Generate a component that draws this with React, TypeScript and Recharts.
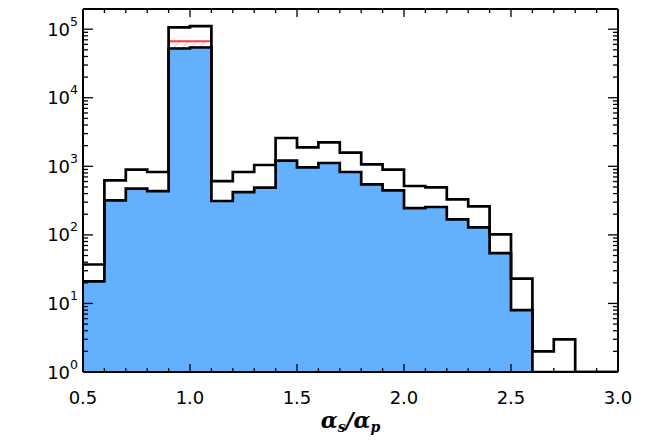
import { ComposedChart, Area, XAxis, YAxis, ReferenceLine } from "recharts";

// bin edges of the histogram (alpha_s / alpha_p)
const binEdges = [
  0.5, 0.6, 0.7, 0.8, 0.9, 1.0, 1.1, 1.2, 1.3, 1.4, 1.5, 1.6, 1.7, 1.8, 1.9,
  2.0, 2.1, 2.2, 2.3, 2.4, 2.5, 2.6, 2.7, 2.8, 2.9, 3.0,
];

// counts per bin (one less than the edges)
const allCounts = [
  37, 625, 895, 826, 106000, 111000, 610, 826, 1045, 2590, 1893, 2240, 1585,
  1069, 895, 516, 494, 330, 261, 102, 23, 2, 3, 0, 0,
];
const selectedCounts = [
  21, 319, 472, 436, 52300, 54100, 312, 421, 490, 1211, 967, 1117, 826, 546,
  446, 246, 255, 168, 129, 54, 8, 0, 0, 0, 0,
];
// red hatched level on top of the spike
const flaggedCounts = [
  null, null, null, null, 66500, 66500, null, null, null, null, null, null,
  null, null, null, null, null, null, null, null, null, null, null, null, null,
];

const xTicks = binEdges;
const yMajor = [1, 10, 100, 1000, 10000, 100000];
const yTicks = yMajor
  .flatMap((d) => [d, 2 * d, 3 * d, 4 * d, 5 * d, 6 * d, 7 * d, 8 * d, 9 * d])
  .filter((v) => v < 1.97e5);

const FONT = "DejaVu Sans";
const FLOOR = 1; // empty bins sit on the bottom of the log axis
const X_DOMAIN = [0.5, 3.0];
const Y_DOMAIN = [1, 1.97e5];

// value of a step series at edge i (the last edge closes the previous bin)
const at = (arr: (number | null)[], i: number) =>
  i < arr.length ? arr[i] : arr[arr.length - 1];

const data = binEdges.map((x, i) => {
  const all = at(allCounts, i) as number;
  const sel = at(selectedCounts, i) as number;
  let red: number[] | null = null;
  if (i < flaggedCounts.length && flaggedCounts[i] != null) {
    red = [selectedCounts[i], flaggedCounts[i] as number];
  } else if (i > 0 && flaggedCounts[i - 1] != null) {
    red = [selectedCounts[i - 1], flaggedCounts[i - 1] as number];
  }
  return {
    x,
    all: all > 0 ? all : FLOOR,
    sel: sel > 0 ? sel : FLOOR,
    red,
  };
});

const isMajorY = (v: number) => {
  const e = Math.log10(v);
  return Math.abs(e - Math.round(e)) < 1e-6;
};
const isMajorX = (v: number) => Math.round(v * 10) % 5 === 0;

const TICK_W = 1.3;

function LeftTick({ x, y, payload }: any) {
  const v = payload.value;
  const major = isMajorY(v);
  return (
    <g>
      <line x1={x} y1={y} x2={x + (major ? 10 : 5)} y2={y} stroke="#000" strokeWidth={TICK_W} />
      {major && (
        <text x={x - 5} y={y + 6.5} textAnchor="end" fontFamily={FONT} fontSize={18} fill="#000">
          10
          <tspan dy={-10} fontSize={12.5}>
            {Math.round(Math.log10(v))}
          </tspan>
        </text>
      )}
    </g>
  );
}

function RightTick({ x, y, payload }: any) {
  const major = isMajorY(payload.value);
  return <line x1={x} y1={y} x2={x - (major ? 10 : 5)} y2={y} stroke="#000" strokeWidth={TICK_W} />;
}

function BottomTick({ x, y, payload }: any) {
  const v = payload.value;
  const major = isMajorX(v);
  return (
    <g>
      <line x1={x} y1={y} x2={x} y2={y - (major ? 8 : 4)} stroke="#000" strokeWidth={TICK_W} />
      {major && (
        <text x={x} y={y + 31.5} textAnchor="middle" fontFamily={FONT} fontSize={18} fill="#000">
          {v.toFixed(1)}
        </text>
      )}
    </g>
  );
}

function TopTick({ x, y, payload }: any) {
  const major = isMajorX(payload.value);
  return <line x1={x} y1={y} x2={x} y2={y + (major ? 8 : 4)} stroke="#000" strokeWidth={TICK_W} />;
}

function XTitle({ viewBox }: any) {
  const cx = viewBox.x + viewBox.width / 2;
  return (
    <text
      x={cx}
      y={viewBox.y + 56}
      textAnchor="middle"
      fontFamily="DejaVu Serif"
      fontWeight="bold"
      fontStyle="italic"
      fontSize={22}
      fill="#000"
    >
      α<tspan fontSize={14} dy={4}>s</tspan>
      <tspan dy={-4}>/α</tspan>
      <tspan fontSize={14} dy={4}>p</tspan>
    </text>
  );
}

const frame = { stroke: "#000", strokeWidth: 2 };

export default function App() {
  return (
    <div style={{ position: "absolute", left: 0, top: 0, background: "#fff" }}>
      <ComposedChart
        width={668}
        height={445}
        data={data}
        margin={{ top: 8, right: 49, bottom: 0, left: 0 }}
      >
        <defs>
          <pattern id="hatch" width="6" height="6" patternUnits="userSpaceOnUse" patternTransform="rotate(45)">
            <line x1="0" y1="0" x2="0" y2="6" stroke="#ff8a8a" strokeWidth="1.3" />
          </pattern>
        </defs>
        <XAxis
          xAxisId="b"
          dataKey="x"
          type="number"
          domain={X_DOMAIN}
          allowDataOverflow
          ticks={xTicks}
          interval={0}
          tickSize={0}
          tickMargin={0}
          tickLine={false}
          axisLine={frame}
          tick={<BottomTick />}
          height={73}
          label={<XTitle />}
        />
        <XAxis
          xAxisId="t"
          dataKey="x"
          orientation="top"
          type="number"
          domain={X_DOMAIN}
          allowDataOverflow
          ticks={xTicks}
          interval={0}
          tickSize={0}
          tickMargin={0}
          tickLine={false}
          axisLine={frame}
          tick={<TopTick />}
          height={1}
        />
        <YAxis
          yAxisId="l"
          scale="log"
          domain={Y_DOMAIN}
          allowDataOverflow
          ticks={yTicks}
          interval={0}
          tickSize={0}
          tickMargin={0}
          tickLine={false}
          axisLine={frame}
          tick={<LeftTick />}
          width={83}
        />
        <YAxis
          yAxisId="r"
          orientation="right"
          scale="log"
          domain={Y_DOMAIN}
          allowDataOverflow
          ticks={yTicks}
          interval={0}
          tickSize={0}
          tickMargin={0}
          tickLine={false}
          axisLine={frame}
          tick={<RightTick />}
          width={1}
        />
        <Area
          xAxisId="b"
          yAxisId="l"
          dataKey="red"
          type="stepAfter"
          stroke="#ff3b3b"
          strokeWidth={2}
          fill="url(#hatch)"
          fillOpacity={1}
          dot={false}
          activeDot={false}
          isAnimationActive={false}
        />
        <Area
          xAxisId="b"
          yAxisId="l"
          dataKey="sel"
          type="stepAfter"
          stroke="#000"
          strokeWidth={2.7}
          fill="#63b0ff"
          fillOpacity={1}
          dot={false}
          activeDot={false}
          isAnimationActive={false}
        />
        <Area
          xAxisId="t"
          yAxisId="r"
          dataKey="all"
          type="stepAfter"
          stroke="#000"
          strokeWidth={2.7}
          fill="none"
          dot={false}
          activeDot={false}
          isAnimationActive={false}
        />
        {/* plot frame on the top and right edges */}
        <ReferenceLine xAxisId="b" yAxisId="l" x={X_DOMAIN[1]} stroke="#000" strokeWidth={2} ifOverflow="visible" />
        <ReferenceLine xAxisId="b" yAxisId="l" y={Y_DOMAIN[1]} stroke="#000" strokeWidth={2} ifOverflow="visible" />
      </ComposedChart>
    </div>
  );
}
